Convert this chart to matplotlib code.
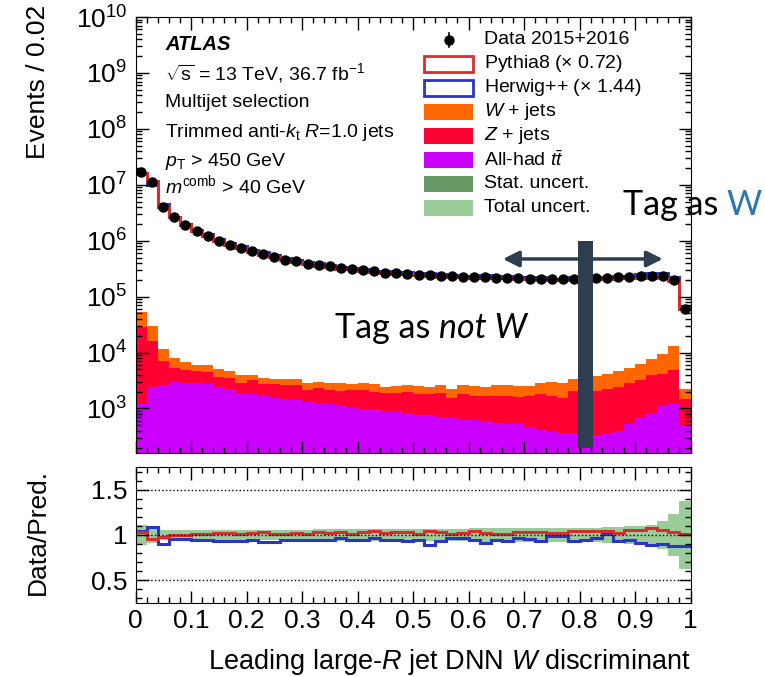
import numpy as np
import matplotlib
matplotlib.use('Agg')
import matplotlib.pyplot as plt
from matplotlib.patches import Rectangle
from matplotlib.lines import Line2D
from matplotlib.ticker import LogLocator, MultipleLocator, NullFormatter, FixedLocator

# 50 bins of 0.02 in the DNN W discriminant
edges = np.linspace(0, 1, 51)

data = [1.7e7, 1.1e7, 4.0e6, 2.6e6, 1.9e6, 1.48e6, 1.23e6, 1.0e6, 8.5e5, 7.4e5,
        6.5e5, 5.7e5, 5.2e5, 4.6e5, 4.3e5, 3.9e5, 3.7e5, 3.5e5, 3.25e5, 3.1e5,
        2.96e5, 2.83e5, 2.7e5, 2.6e5, 2.57e5, 2.46e5, 2.4e5, 2.35e5, 2.3e5, 2.27e5,
        2.23e5, 2.2e5, 2.17e5, 2.15e5, 2.12e5, 2.1e5, 2.08e5, 2.07e5, 2.07e5, 2.08e5,
        2.1e5, 2.12e5, 2.15e5, 2.2e5, 2.25e5, 2.3e5, 2.35e5, 2.35e5, 2.0e5, 6.0e4]

# data / prediction in the lower panel
pythia_ratio = [1.03, 0.96, 0.98, 1.00, 1.00, 1.01, 1.01, 1.02, 1.02, 1.01,
                1.02, 1.03, 1.01, 1.01, 1.02, 1.01, 1.03, 1.02, 1.03, 1.01,
                1.03, 1.04, 1.02, 1.03, 1.03, 1.01, 1.045, 1.037, 1.01, 1.02,
                1.045, 1.026, 1.01, 1.01, 1.037, 1.037, 1.037, 1.026, 1.026, 1.045,
                1.045, 1.045, 1.045, 1.026, 1.055, 1.06, 1.08, 1.06, 1.037, 1.01]
herwig_ratio = [1.04, 1.09, 0.90, 0.96, 0.96, 0.95, 0.94, 0.93, 0.93, 0.93,
                0.94, 0.92, 0.92, 0.94, 0.95, 0.95, 0.94, 0.945, 0.97, 0.945,
                0.95, 0.97, 0.95, 0.94, 0.93, 0.945, 0.89, 0.93, 0.963, 0.963,
                0.945, 0.91, 0.945, 0.93, 0.963, 0.952, 0.938, 0.99, 0.99, 0.93,
                0.945, 0.963, 1.01, 0.938, 0.945, 0.91, 0.89, 0.90, 0.88, 0.88]
total_unc = [0.11, 0.09, 0.06, 0.055, 0.055, 0.055, 0.055, 0.055, 0.055, 0.06,
             0.06, 0.06, 0.06, 0.06, 0.06, 0.06, 0.065, 0.065, 0.065, 0.065,
             0.065, 0.065, 0.07, 0.07, 0.07, 0.07, 0.07, 0.07, 0.07, 0.07,
             0.075, 0.075, 0.075, 0.075, 0.075, 0.075, 0.075, 0.08, 0.08, 0.08,
             0.08, 0.08, 0.085, 0.09, 0.095, 0.10, 0.11, 0.15, 0.23, 0.38]

# stacked backgrounds
ttbar = [1200, 2400, 2600, 3000, 2900, 2900, 2700, 2400, 2200, 1900,
         1800, 1660, 1550, 1500, 1400, 1300, 1250, 1180, 1100, 1050,
         980, 930, 900, 860, 820, 780, 750, 710, 680, 630,
         620, 580, 560, 530, 520, 470, 420, 380, 370, 370,
         350, 340, 360, 400, 520, 680, 830, 1100, 1180, 500]
zjets = [27800, 13600, 4600, 2400, 1900, 1800, 1800, 1300, 1300, 1000,
         1400, 1040, 1150, 1100, 1250, 800, 1050, 920, 950, 1050,
         1170, 1020, 1000, 1040, 1130, 1070, 1100, 1190, 870, 1150,
         1080, 1080, 1140, 1170, 1080, 1230, 1360, 1320, 1180, 1680,
         1750, 1710, 1890, 2050, 2280, 2520, 3070, 3100, 3620, 1000]
wjets = [25000, 14000, 4500, 2600, 2000, 1400, 1400, 1300, 1100, 1000,
         800, 800, 700, 800, 650, 700, 650, 800, 850, 650,
         750, 750, 550, 600, 650, 650, 600, 700, 700, 820,
         800, 790, 900, 900, 900, 850, 1020, 1250, 1250, 1350,
         1500, 1750, 1950, 2150, 2600, 3100, 3800, 5300, 8500, 700]

xtick_labels = ['0', '0.1', '0.2', '0.3', '0.4', '0.5', '0.6', '0.7', '0.8', '0.9', '1']
ytick_decades = [1e3, 1e4, 1e5, 1e6, 1e7, 1e8, 1e9, 1e10]

plt.rcParams['font.family'] = ['Liberation Sans', 'DejaVu Sans']
plt.rcParams['mathtext.fontset'] = 'custom'
plt.rcParams['mathtext.rm'] = 'Liberation Sans'
plt.rcParams['mathtext.it'] = 'Liberation Sans:italic'
plt.rcParams['mathtext.bf'] = 'Liberation Sans:bold'

RED = '#d32f2f'
BLUE = '#2b35c4'
SLATE = '#2e3d4f'

W, H = 765.0, 677.0
fig = plt.figure(figsize=(7.65, 6.77), dpi=100)
ax = fig.add_axes([135.5 / W, 1 - 453 / H, 555 / W, 436 / H])
axr = fig.add_axes([135.5 / W, 1 - 603 / H, 555 / W, 136 / H])

data = np.array(data)
pythia_ratio = np.array(pythia_ratio)
herwig_ratio = np.array(herwig_ratio)
total_unc = np.array(total_unc)
ttbar = np.array(ttbar, dtype=float)
zjets = np.array(zjets, dtype=float)
wjets = np.array(wjets, dtype=float)
pythia = data / pythia_ratio
herwig = data / herwig_ratio
centers = 0.5 * (edges[1:] + edges[:-1])

# main panel
ax.stairs(ttbar + zjets + wjets, edges, baseline=1, fill=True, color='#ff6600', lw=0)
ax.stairs(ttbar + zjets, edges, baseline=1, fill=True, color='#ff0033', lw=0)
ax.stairs(ttbar, edges, baseline=1, fill=True, color='#cc00ff', lw=0)
ax.stairs(herwig, edges, baseline=None, color=BLUE, lw=2.2)
ax.stairs(pythia, edges, baseline=None, color=RED, lw=2.2)
ax.errorbar(centers, data, yerr=np.sqrt(data), fmt='o', color='k', ms=6.5,
            elinewidth=1.2, capsize=0, zorder=5)
ax.set_yscale('log')
ax.set_ylim(1.6e2, 1e10)
ax.set_xlim(0, 1)

# ratio panel
axr.stairs(1 + total_unc, edges, baseline=1 - total_unc, fill=True, color='#99cc99', lw=0)
for yv in (0.5, 1.0, 1.5):
    axr.axhline(yv, color='k', ls=':', lw=1)
axr.stairs(herwig_ratio, edges, baseline=None, color=BLUE, lw=2.2)
axr.stairs(pythia_ratio, edges, baseline=None, color=RED, lw=2.2)
axr.set_xlim(0, 1)
axr.set_ylim(0.25, 1.75)

for a in (ax, axr):
    a.xaxis.set_major_locator(MultipleLocator(0.1))
    a.xaxis.set_minor_locator(MultipleLocator(0.02))
    a.tick_params(which='both', direction='in', top=True, right=True, labelsize=19, width=1)
    a.tick_params(which='major', length=9)
    a.tick_params(which='minor', length=4.5)
    a.tick_params(axis='y', pad=6)
    a.tick_params(axis='x', pad=4)
axr.set_xticks(np.linspace(0, 1, 11), xtick_labels)
axr.set_yticks([0.5, 1.0, 1.5], ['0.5', '1', '1.5'])
axr.yaxis.set_minor_locator(MultipleLocator(0.1))
ax.yaxis.set_major_locator(FixedLocator(ytick_decades))
ax.yaxis.set_minor_locator(LogLocator(base=10, subs=np.arange(2, 10), numticks=20))
ax.yaxis.set_minor_formatter(NullFormatter())
ax.tick_params(labelbottom=False)

ax.set_ylabel('Events / 0.02', fontsize=19, va='center')
ax.yaxis.set_label_coords(-0.1757, 0.851)
axr.set_ylabel('Data/Pred.', fontsize=19, va='center')
axr.yaxis.set_label_coords(-0.1757, 0.522)
axr.set_xlabel('Leading large-$R$ jet DNN $W$ discriminant', fontsize=19.5, ha='right', va='center')
axr.xaxis.set_label_coords(1.0, -0.434)

# ATLAS label block
fig.text(165 / W, 1 - 50 / H, 'ATLAS', fontsize=14.5, fontweight='bold', style='italic', va='baseline')
info = [(80, r'$\sqrt{\mathrm{s}}$ = 13 TeV, 36.7 fb$^{-1}$'),
        (107, 'Multijet selection'),
        (137, r'Trimmed anti-$k_{\mathrm{t}}$ $R$=1.0 jets'),
        (166, r'$p_{\mathrm{T}}$ > 450 GeV'),
        (193, r'$m^{\mathrm{comb}}$ > 40 GeV')]
for yb, s in info:
    fig.text(165 / W, 1 - yb / H, s, fontsize=14, va='baseline')

# legend
rows = [40, 64, 88, 112, 136, 160, 184, 208]
labels = ['Data 2015+2016', 'Pythia8 ($\\times$ 0.72)', 'Herwig++ ($\\times$ 1.44)',
          '$W$ + jets', '$Z$ + jets', r'All-had $t\bar{t}$', 'Stat. uncert.', 'Total uncert.']
boxes = [None, ('white', RED), ('white', BLUE), ('#ff6600', None), ('#ff0033', None),
         ('#cc00ff', None), ('#669966', None), ('#99cc99', None)]
for yc, lab, box in zip(rows, labels, boxes):
    fig.text(484 / W, 1 - yc / H, lab, fontsize=14, va='center')
    if box is None:
        fig.add_artist(Line2D([449 / W, 449 / W], [1 - (yc - 7) / H, 1 - (yc + 7) / H],
                              color='k', lw=1.2, transform=fig.transFigure))
        fig.add_artist(Line2D([449 / W], [1 - yc / H], marker='o', ms=6.5, color='k',
                              transform=fig.transFigure))
    else:
        fc, ec = box
        fig.add_artist(Rectangle((424 / W, 1 - (yc + 8) / H), 49 / W, 16 / H, facecolor=fc,
                                 edgecolor=ec if ec else fc, lw=2 if ec else 0,
                                 transform=fig.transFigure))

# overlay annotations: cut bar and arrow
ax.add_patch(Rectangle((0.798, 0.011), 0.026, 0.475, transform=ax.get_xaxis_transform(),
                       color=SLATE, zorder=10, lw=0))
ax.annotate('', xy=(0.662, 0.445), xytext=(0.950, 0.445), xycoords=ax.get_xaxis_transform(),
            arrowprops=dict(arrowstyle='<|-|>', color=SLATE, lw=2.5, mutation_scale=24,
                            shrinkA=0, shrinkB=0), zorder=10)

t1 = fig.text(623 / W, 1 - 215 / H, 'Tag as', fontsize=24.5, family='Lato', va='baseline')
ax.annotate('W', xy=(1, 0), xycoords=t1, xytext=(6, 0), textcoords='offset points',
            fontsize=24.5, family='Lato', color='#2e75b6', va='bottom', annotation_clip=False)
t2 = fig.text(335 / W, 1 - 338 / H, 'Tag as', fontsize=24.5, family='Lato', va='baseline')
ax.annotate('not W', xy=(1, 0), xycoords=t2, xytext=(6, 0), textcoords='offset points',
            fontsize=24.5, family='Lato', style='italic', va='bottom', annotation_clip=False)

fig.savefig('out.png', dpi=100)
